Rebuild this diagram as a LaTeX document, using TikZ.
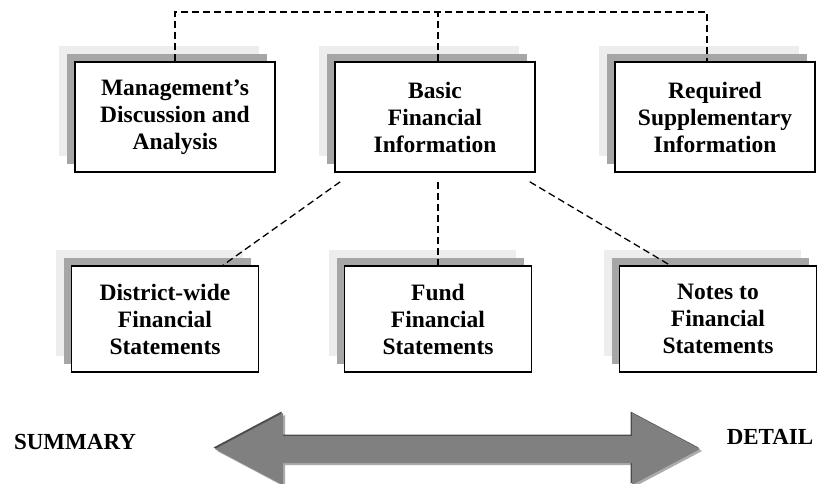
\documentclass[tikz,border=0pt]{standalone}
\usepackage{fontspec}
\setmainfont{Liberation Serif}
\usetikzlibrary{shadows}

\tikzset{
    part/.style={draw,line width=1.6pt,fill=white,align=center,
        font=\fontsize{23.5}{27}\selectfont\bfseries,
        minimum width=200pt,minimum height=110pt,
        general shadow={fill=black!7,shadow xshift=-16pt,shadow yshift=16pt},
        general shadow={fill=black!35,shadow xshift=-8pt,shadow yshift=8pt}},
    lowpart/.style={part,minimum width=187pt,minimum height=106pt},
    link/.style={line width=1.3pt,dash pattern=on 7pt off 4pt},
    endlabel/.style={font=\fontsize{23}{27}\selectfont\bfseries}
}

\begin{document}
\begin{tikzpicture}[x=1pt,y=-1pt]

    \def\scalearrow{(215,449) -- (283,413) -- (283,436) -- (632,436) -- (632,413)
        -- (700,449) -- (632,485) -- (632,463) -- (283,463) -- (283,485) -- cycle}

    \useasboundingbox (0,0) rectangle (823,483);

    %top row:
    \node[part] (mda) at (175,117) {Management's\\Discussion and\\Analysis};
    \node[part] (bfi) at (435,117) {Basic\\Financial\\Information};
    \node[part] (rsi) at (715,117) {Required\\Supplementary\\Information};

    %bottom row:
    \node[lowpart] (dws) at (165,319) {District-wide\\Financial\\Statements};
    \node[lowpart] (ffs) at (438,319) {Fund\\Financial\\Statements};
    \node[lowpart,minimum width=197pt] (nfs) at (718,319) {Notes to\\Financial\\Statements};

    %dashed links:
    \coordinate (bar) at (435,12);
    \draw[link] (mda.north) |- (bar) -| ([xshift=-8pt]rsi.north);
    \draw[link] ([xshift=3pt]bfi.north) -- ([xshift=3pt]bar);
    \draw[link] ([shift={(6pt,-9pt)}]bfi.south west) -- ([xshift=58pt]dws.north);
    \draw[link] ([xshift=3pt,yshift=-9pt]bfi.south) -- ([xshift=0pt]ffs.north);
    \draw[link] ([shift={(-6pt,-9pt)}]bfi.south east) -- ([xshift=-48pt]nfs.north);

    %summary/detail arrow:
    \fill[black!33,shift={(2,2)}] \scalearrow;
    \fill[black!70,shift={(-1.5,-1.5)}] \scalearrow;
    \fill[black!50] \scalearrow;
    \node[endlabel] (summary) at (75,442) {SUMMARY};
    \node[endlabel] (detail) at (770,437) {DETAIL};

\end{tikzpicture}
\end{document}
